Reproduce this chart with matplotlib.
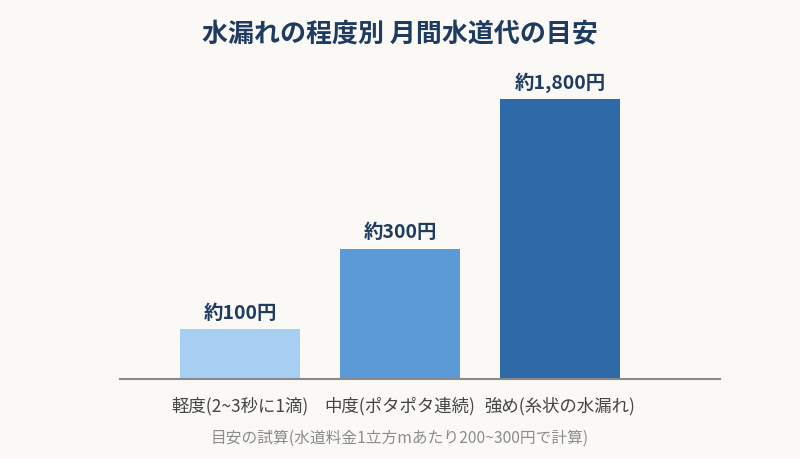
import matplotlib.pyplot as plt

plt.rcParams['font.family'] = ['Noto Sans CJK JP', 'DejaVu Sans']

# Data
categories = ["軽度(2~3秒に1滴)", "中度(ポタポタ連続)", "強め(糸状の水漏れ)"]
cost_labels = ["約100円", "約300円", "約1,800円"]
# bar heights as drawn in the reference (relative, max = 100)
bar_heights = [17.7, 46.3, 100]
colors = ["#a6cff2", "#5b9ad6", "#2e6aa7"]

title = "水漏れの程度別 月間水道代の目安"
note = "目安の試算(水道料金1立方mあたり200~300円で計算)"

bg = "#faf9f6"
navy = "#1f3b60"

fig = plt.figure(figsize=(8, 4.6), dpi=100, facecolor=bg)
ax = fig.add_axes([0.15, 0.1739, 0.75, 0.6696])
ax.set_facecolor(bg)

x = range(len(categories))
bars = ax.bar(x, bar_heights, width=0.75, color=colors, zorder=2)

# value labels above bars
for b, lab in zip(bars, cost_labels):
    ax.annotate(lab, (b.get_x() + b.get_width() / 2, b.get_height()),
                xytext=(0, 12.5), textcoords="offset points",
                ha="center", va="center", fontsize=14, fontweight="bold",
                color=navy)

ax.set_xlim(-0.75, 3.0)
ax.set_ylim(0, 110)

for s in ["top", "right", "left"]:
    ax.spines[s].set_visible(False)
ax.spines["bottom"].set_color("#8a8a8a")
ax.spines["bottom"].set_linewidth(1.5)
ax.set_yticks([])
ax.set_xticks(list(x))
ax.set_xticklabels(categories, fontsize=12.5, color="#444444")
ax.tick_params(axis="x", length=0, pad=12)

fig.text(0.5, 1 - 35 / 460, title, ha="center", va="center",
         fontsize=18.7, fontweight="bold", color=navy)
fig.text(0.5, 1 - 438 / 460, note, ha="center", va="center",
         fontsize=11.3, color="#8c8c8c")

fig.savefig("out.png", dpi=100, facecolor=bg)
